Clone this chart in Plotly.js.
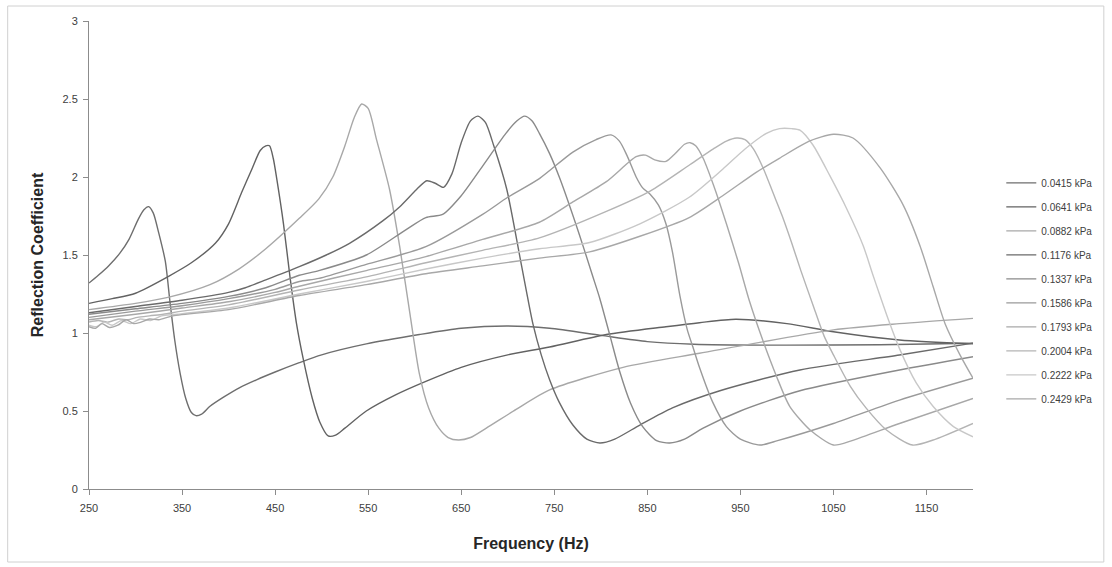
<!DOCTYPE html>
<html>
<head>
<meta charset="utf-8">
<script src="https://cdn.plot.ly/plotly-3.0.1.min.js"></script>
<style>
html,body{margin:0;padding:0;background:#fff;}
#chart{width:1112px;height:567px;}
</style>
</head>
<body>
<div id="chart"></div>
<script>
// Series names (legend labels)
const seriesNames = ["0.0415 kPa","0.0641 kPa","0.0882 kPa","0.1176 kPa","0.1337 kPa","0.1586 kPa","0.1793 kPa","0.2004 kPa","0.2222 kPa","0.2429 kPa"];
const seriesColors = ["#6e6e6e","#626262","#a8a8a8","#6a6a6a","#8a8a8a","#9a9a9a","#a8a8a8","#b4b4b4","#c8c8c8","#a8a8a8"];

// Frequency (Hz) and reflection coefficient, one pair of arrays per series
const f1 = [250,260,271,283,293,303,309,314,319,325,332,337,342,348,354,360,365,371,380,395,412,430,450,476,500,548,605,650,700,745,800,850,900,1000,1100,1200];
const r1 = [1.32,1.37,1.43,1.51,1.60,1.73,1.79,1.81,1.77,1.64,1.46,1.20,0.96,0.74,0.58,0.49,0.47,0.48,0.53,0.59,0.65,0.70,0.75,0.81,0.86,0.93,0.99,1.03,1.045,1.03,0.985,0.945,0.928,0.922,0.925,0.934];

const f2 = [250,275,300,336,360,386,400,414,425,434,440,444,448,452,459,466,473,480,490,498,507,515,525,548,580,612,650,700,745,806,870,906,945,1000,1050,1121,1200];
const r2 = [1.19,1.22,1.255,1.365,1.45,1.577,1.70,1.90,2.05,2.17,2.20,2.20,2.12,1.98,1.70,1.36,1.06,0.84,0.58,0.43,0.34,0.345,0.39,0.50,0.605,0.69,0.78,0.86,0.91,0.99,1.04,1.066,1.088,1.06,1.008,0.955,0.93];

const f3 = [250,300,336,380,411,440,476,497,512,525,535,543,550,559,573,584,595,605,615,626,636,647,660,677,709,745,824,906,1050,1121,1200];
const r3 = [1.15,1.19,1.23,1.31,1.41,1.54,1.735,1.86,2.0,2.2,2.38,2.468,2.44,2.24,1.92,1.55,1.12,0.74,0.52,0.39,0.33,0.314,0.33,0.39,0.51,0.635,0.78,0.87,1.02,1.06,1.094];

const f4 = [250,300,350,400,418,440,476,505,530,566,584,602,613,622,631,640,650,660,668,676,685,699,713,720,727,736,745,755,770,785,799,815,842,877,928,1014,1121,1200];
const r4 = [1.13,1.17,1.21,1.26,1.29,1.34,1.425,1.50,1.575,1.72,1.81,1.92,1.976,1.96,1.934,2.02,2.22,2.36,2.39,2.35,2.20,1.92,1.49,1.27,1.06,0.86,0.70,0.56,0.41,0.32,0.295,0.32,0.41,0.52,0.63,0.763,0.859,0.935];

const f5 = [250,300,350,400,440,476,497,548,590,612,630,650,673,698,710,718,726,734,745,756,777,791,799,810,820,832,845,860,874,890,910,950,1014,1121,1200];
const r5 = [1.12,1.155,1.19,1.235,1.29,1.37,1.40,1.50,1.66,1.74,1.76,1.88,2.07,2.28,2.36,2.39,2.36,2.28,2.15,1.99,1.63,1.37,1.22,0.98,0.76,0.55,0.40,0.31,0.295,0.32,0.39,0.50,0.63,0.763,0.848];

const f6 = [250,300,350,400,450,476,497,548,612,673,700,734,770,795,811,820,828,838,845,853,862,870,877,885,893,899,906,920,935,950,971,990,1050,1121,1200];
const r6 = [1.10,1.14,1.175,1.22,1.28,1.33,1.35,1.44,1.553,1.76,1.87,1.99,2.16,2.24,2.27,2.23,2.14,2.0,1.93,1.89,1.82,1.70,1.52,1.24,1.02,0.91,0.78,0.56,0.40,0.32,0.282,0.31,0.42,0.57,0.71];

const f7 = [250,300,350,400,450,476,548,612,673,734,770,806,838,848,858,870,880,890,896,902,910,921,935,948,960,974,989,1003,1025,1050,1070,1121,1200];
const r7 = [1.085,1.12,1.16,1.20,1.26,1.30,1.40,1.49,1.60,1.71,1.84,1.97,2.13,2.14,2.11,2.10,2.15,2.21,2.22,2.20,2.12,1.95,1.70,1.45,1.20,0.955,0.72,0.53,0.378,0.282,0.31,0.42,0.58];

const f8 = [250,260,270,282,292,302,315,330,350,400,476,548,612,673,734,806,853,896,921,935,946,955,964,975,985,995,1005,1015,1028,1040,1050,1068,1085,1107,1135,1160,1200];
const r8 = [1.07,1.08,1.07,1.09,1.085,1.10,1.11,1.12,1.14,1.18,1.276,1.36,1.45,1.53,1.61,1.78,1.91,2.08,2.18,2.23,2.25,2.24,2.18,2.05,1.90,1.75,1.58,1.40,1.18,0.98,0.86,0.66,0.52,0.378,0.282,0.32,0.42];

const f9 = [250,258,266,275,285,295,305,316,328,345,400,476,548,612,673,734,788,842,895,931,955,978,992,1005,1014,1028,1046,1064,1082,1092,1100,1110,1121,1139,1157,1179,1200];
const r9 = [1.05,1.04,1.07,1.05,1.08,1.06,1.09,1.08,1.11,1.12,1.16,1.25,1.33,1.41,1.48,1.54,1.58,1.70,1.87,2.05,2.18,2.28,2.31,2.31,2.30,2.205,2.01,1.80,1.56,1.38,1.24,1.07,0.90,0.68,0.53,0.40,0.335];

const f10 = [250,257,264,272,281,290,298,306,315,325,340,400,476,548,612,673,734,788,842,895,931,967,992,1024,1050,1071,1100,1125,1143,1157,1170,1186,1200];
const r10 = [1.04,1.03,1.06,1.035,1.05,1.085,1.06,1.07,1.09,1.085,1.11,1.15,1.24,1.31,1.38,1.43,1.48,1.52,1.62,1.74,1.88,2.03,2.12,2.23,2.274,2.25,2.06,1.82,1.56,1.30,1.06,0.86,0.71];

const xTicks = [250,350,450,550,650,750,850,950,1050,1150];
const yTicks = [0,0.5,1,1.5,2,2.5,3];

const freqs = [f1,f2,f3,f4,f5,f6,f7,f8,f9,f10];
const refl = [r1,r2,r3,r4,r5,r6,r7,r8,r9,r10];

const traces = seriesNames.map((name,i)=>({
  type:'scatter', mode:'lines', name:name,
  x:freqs[i], y:refl[i],
  legendgroup:'g'+i,
  line:{color:seriesColors[i], width:1.4, shape:'spline', smoothing:0.7}
}));

const tickFont = {family:'"Liberation Sans", Arial, sans-serif', size:11, color:'#404040'};

const layout = {
  width:1112, height:567,
  paper_bgcolor:'#fff', plot_bgcolor:'#fff',
  margin:{l:89, r:139, t:21, b:78},
  showlegend:true,
  legend:{x:1.032, y:0.685, xanchor:'left', yanchor:'top',
    font:{family:'"Liberation Sans", Arial, sans-serif', size:10, color:'#404040'},
    traceorder:'grouped', tracegroupgap:5, itemwidth:30, bgcolor:'rgba(0,0,0,0)'},
  xaxis:{range:[250,1200], tickvals:xTicks, ticktext:xTicks.map(String),
    showgrid:false, zeroline:false, showline:true, linecolor:'#8c8c8c', linewidth:1,
    ticks:'outside', ticklen:5, tickcolor:'#8c8c8c', tickfont:tickFont, ticklabelstandoff:4,
    title:{text:'<b>Frequency (Hz)</b>', font:{family:'"Liberation Sans", Arial, sans-serif', size:16, color:'#262626'}, standoff:24}},
  yaxis:{range:[0,3], tickvals:yTicks, ticktext:yTicks.map(String),
    showgrid:false, zeroline:false, showline:true, linecolor:'#8c8c8c', linewidth:1,
    ticks:'outside', ticklen:5, tickcolor:'#8c8c8c', tickfont:tickFont, ticklabelstandoff:3,
    title:{text:'<b>Reflection Coefficient</b>', font:{family:'"Liberation Sans", Arial, sans-serif', size:16, color:'#262626'}, standoff:14}},
  shapes:[{type:'rect', xref:'paper', yref:'paper', x0:-0.092, x1:1.148, y0:-0.156, y1:1.032,
    line:{color:'#d0d0d0', width:1}, fillcolor:'rgba(0,0,0,0)', layer:'below'}]
};

Plotly.newPlot('chart', traces, layout, {displayModeBar:false, staticPlot:true});
</script>
</body>
</html>
